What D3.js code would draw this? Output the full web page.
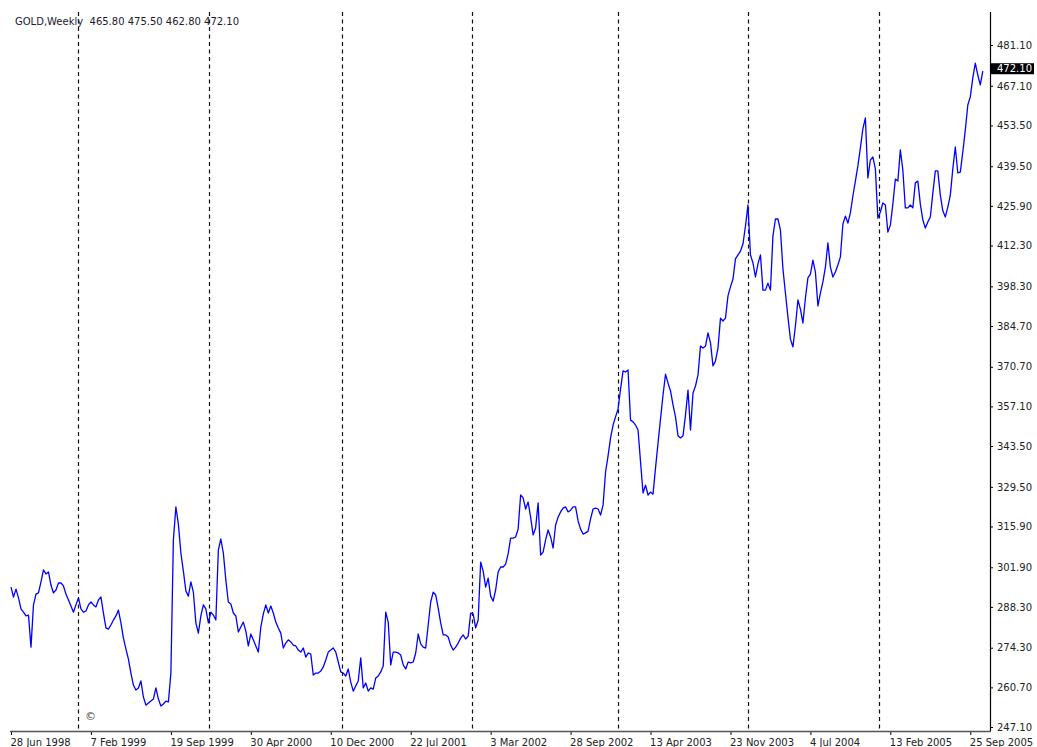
<!DOCTYPE html>
<html>
<head>
<meta charset="utf-8">
<script src="https://cdn.jsdelivr.net/npm/d3@7"></script>
<style>
  body { margin: 0; background: #fff; }
  svg { display: block; font-family: "DejaVu Sans", sans-serif; }
</style>
</head>
<body>
<svg id="chart" width="1037" height="747"></svg>
<script>
// weekly closes, one per bar, first bar = 28 Jun 1998
var closes = [
  295.1, 291.7, 294.4, 291.4, 287.6, 286.5, 285.2, 285.5, 274.5, 289.0,
  292.7, 293.1, 296.9, 301.0, 299.6, 300.3, 295.8, 293.1, 294.1, 296.5,
  296.5, 295.5, 292.7, 290.7, 288.6, 286.5, 289.0, 291.4, 287.6, 286.5,
  286.9, 289.0, 290.0, 289.0, 288.3, 290.7, 291.7, 286.2, 281.1, 280.7,
  282.1, 283.8, 285.2, 287.2, 282.8, 277.6, 273.9, 270.4, 265.6, 261.5,
  259.8, 260.5, 262.9, 257.4, 254.6, 255.3, 256.0, 256.7, 260.5, 256.7,
  254.3, 255.0, 256.0, 255.7, 265.6, 311.3, 322.6, 316.7, 306.8, 300.6,
  293.8, 292.0, 296.9, 293.4, 282.8, 279.3, 285.2, 289.0, 287.6, 282.8,
  286.5, 285.5, 283.8, 307.8, 311.6, 306.8, 297.5, 290.0, 289.3, 286.2,
  285.2, 279.7, 281.4, 283.1, 280.0, 274.9, 279.0, 277.0, 274.9, 272.8,
  281.4, 285.9, 289.0, 286.2, 288.6, 286.2, 283.1, 281.1, 279.3, 274.2,
  275.9, 277.0, 276.3, 275.2, 274.9, 273.5, 272.8, 274.2, 271.1, 272.5,
  272.1, 264.9, 265.6, 265.6, 266.3, 267.7, 270.1, 272.8, 273.5, 274.2,
  272.8, 269.4, 266.0, 265.6, 264.6, 267.0, 262.5, 259.4, 261.2, 262.9,
  270.8, 260.5, 262.2, 259.4, 260.5, 260.1, 263.9, 264.6, 266.0, 268.0,
  286.5, 283.1, 268.4, 272.8, 272.8, 272.5, 271.8, 268.4, 267.0, 269.4,
  269.1, 269.4, 272.5, 279.0, 275.6, 274.5, 274.2, 282.1, 290.0, 293.4,
  292.4, 287.9, 282.8, 278.7, 278.7, 278.0, 275.2, 273.5, 274.5, 275.9,
  277.6, 278.7, 277.3, 278.3, 286.2, 285.9, 281.1, 283.8, 303.7, 300.6,
  295.1, 298.2, 292.0, 290.3, 294.1, 300.3, 302.0, 302.0, 303.0, 306.5,
  311.9, 311.9, 312.3, 315.0, 326.7, 325.7, 321.9, 324.3, 319.1, 313.0,
  315.4, 324.0, 306.1, 307.1, 311.3, 314.7, 312.3, 308.5, 316.4, 319.1,
  320.9, 322.2, 322.6, 320.9, 321.5, 322.6, 322.6, 317.8, 315.0, 313.3,
  313.7, 314.3, 318.5, 321.9, 322.2, 321.9, 319.8, 323.3, 334.6, 340.1,
  346.3, 350.7, 353.5, 356.2, 363.1, 369.3, 368.9, 369.6, 352.4, 351.8,
  350.7, 349.0, 338.0, 327.4, 330.1, 326.7, 327.7, 327.0, 336.0, 344.5,
  352.8, 361.0, 368.2, 365.1, 362.4, 357.6, 353.5, 347.0, 346.3, 347.0,
  354.2, 362.7, 349.0, 361.7, 364.1, 367.9, 377.8, 377.1, 377.8, 382.3,
  378.9, 371.0, 372.7, 377.1, 387.4, 386.4, 387.4, 395.0, 398.1, 400.8,
  407.7, 409.1, 410.4, 412.8, 419.0, 426.2, 409.1, 406.3, 401.5, 406.0,
  409.1, 397.0, 397.0, 399.4, 397.0, 415.6, 421.4, 421.4, 417.6, 404.3,
  396.0, 387.8, 380.2, 377.5, 384.7, 393.6, 390.5, 385.7, 394.3, 401.2,
  402.5, 407.3, 403.2, 391.6, 396.0, 399.8, 404.9, 413.2, 404.9, 401.5,
  403.2, 405.6, 408.4, 419.7, 422.4, 420.0, 423.5, 429.3, 434.4, 439.6,
  445.8, 452.3, 456.1, 435.5, 441.6, 442.7, 438.6, 421.7, 423.8, 426.9,
  426.2, 416.9, 419.3, 426.5, 435.1, 434.4, 445.1, 438.2, 425.2, 425.2,
  426.2, 425.2, 433.8, 434.4, 426.5, 421.1, 418.3, 420.4, 422.1, 430.3,
  437.9, 437.9, 429.6, 424.2, 422.1, 425.5, 429.6, 438.6, 446.1, 437.2,
  437.5, 444.4, 451.9, 460.5, 463.3, 469.8, 474.9, 470.8, 467.4, 472.1
];

// a date label every 32 bars
var dateLabels = [
  "28 Jun 1998", "7 Feb 1999", "19 Sep 1999", "30 Apr 2000", "10 Dec 2000",
  "22 Jul 2001", "3 Mar 2002", "28 Sep 2002", "13 Apr 2003", "23 Nov 2003",
  "4 Jul 2004", "13 Feb 2005", "25 Sep 2005"
];
var barsPerLabel = 32;

var priceTicks = [
  481.10, 467.10, 453.50, 439.50, 425.90, 412.30, 398.30, 384.70, 370.70,
  357.10, 343.50, 329.50, 315.90, 301.90, 288.30, 274.30, 260.70, 247.10
];

// period separators, as bar positions
var separatorBars = [27, 79.3, 132.4, 184.7, 242.9, 295.2, 347.4];

var symbolName = "GOLD,Weekly";
var lastBar = { open: 465.80, high: 475.50, low: 462.80, close: 472.10 };

var svg = d3.select('#chart');

var plotRight = 990;
var plotTop = 12;
var plotBottom = 731;

var x = d3.scaleLinear().domain([0, 384]).range([11, 970.3]);
var y = d3.scaleLinear().domain([247.1, 481.1]).range([727, 45]);

// separators
svg.selectAll('.sep').data(separatorBars).enter().append('line')
  .attr('class', 'sep')
  .attr('x1', function (d) { return Math.round(x(d)) + 0.5; })
  .attr('x2', function (d) { return Math.round(x(d)) + 0.5; })
  .attr('y1', plotTop).attr('y2', plotBottom)
  .attr('stroke', '#111').attr('stroke-width', 1.2)
  .attr('stroke-dasharray', '4,3.5');

// price line
var line = d3.line()
  .x(function (d, i) { return x(i); })
  .y(function (d) { return y(d); });

svg.append('path').datum(closes)
  .attr('d', line)
  .attr('fill', 'none')
  .attr('stroke', '#0000ff')
  .attr('stroke-width', 1.3)
  .attr('stroke-linejoin', 'round');

// right price axis
var yAxis = d3.axisRight(y).tickValues(priceTicks).tickSize(3).tickPadding(4)
  .tickFormat(d3.format('.2f'));
var ya = svg.append('g').attr('transform', 'translate(' + plotRight + ',0)').call(yAxis);
ya.select('.domain').remove();
ya.selectAll('.tick line').attr('stroke', '#000');
ya.selectAll('.tick text').attr('fill', '#222').style('font-size', '10px')
  .style('font-family', '"DejaVu Sans", sans-serif');
svg.append('line')
  .attr('x1', plotRight + 0.5).attr('x2', plotRight + 0.5)
  .attr('y1', plotTop).attr('y2', plotBottom + 0.5)
  .attr('stroke', '#000').attr('stroke-width', 1.2);

// bottom time axis
var tickBars = dateLabels.map(function (d, i) { return i * barsPerLabel; });
var xAxis = d3.axisBottom(x).tickValues(tickBars).tickSize(4).tickPadding(3.5)
  .tickFormat(function (d, i) { return dateLabels[i]; });
var xa = svg.append('g').attr('transform', 'translate(0,' + plotBottom + ')').call(xAxis);
xa.select('.domain').remove();
xa.selectAll('.tick line').attr('stroke', '#000');
xa.selectAll('.tick text').attr('fill', '#222').attr('text-anchor', 'start')
  .attr('x', -1)
  .style('font-size', '10px').style('font-family', '"DejaVu Sans", sans-serif');
svg.append('line')
  .attr('x1', 10).attr('x2', plotRight + 0.5)
  .attr('y1', plotBottom + 0.5).attr('y2', plotBottom + 0.5)
  .attr('stroke', '#555').attr('stroke-width', 1.5);

// last price marker
var lastY = y(lastBar.close);
svg.append('rect').attr('x', 991).attr('y', lastY - 8).attr('width', 43).attr('height', 11)
  .attr('fill', '#000');
svg.append('text').attr('x', 997).attr('y', lastY + 1)
  .attr('fill', '#fff').style('font-size', '10px')
  .text(d3.format('.2f')(lastBar.close));

// header
svg.append('text').attr('x', 15).attr('y', 25)
  .attr('fill', '#1a1a2e').style('font-size', '10px')
  .attr('xml:space', 'preserve')
  .text(symbolName + '  ' + [lastBar.open, lastBar.high, lastBar.low, lastBar.close]
    .map(d3.format('.2f')).join(' '));

svg.append('text').attr('x', 85).attr('y', 720)
  .attr('fill', '#444').style('font-size', '11px').text('\u00a9');
</script>
</body>
</html>
